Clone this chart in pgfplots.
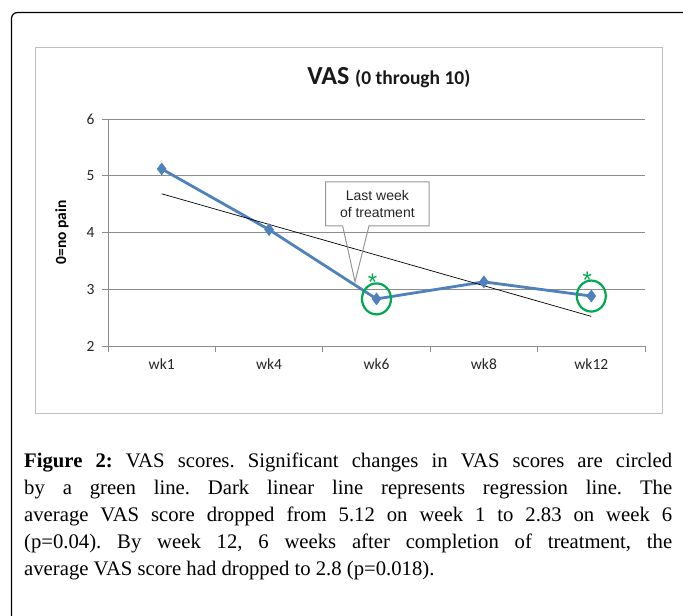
\documentclass[border=0pt]{standalone}
\usepackage{fontspec}
\setmainfont{Carlito}
\newfontfamily\capfont{Liberation Serif}
\newfontfamily\arialfont{Liberation Sans}
\usepackage{pgfplots}
\pgfplotsset{compat=1.18}
\definecolor{xlblue}{RGB}{79,129,189}
\definecolor{xlgreen}{RGB}{0,168,80}
\definecolor{gridgray}{RGB}{140,140,140}
\definecolor{boxgray}{RGB}{191,191,191}
\definecolor{callgray}{RGB}{150,150,150}
\begin{document}
\begin{tikzpicture}
\useasboundingbox (0pt,0pt) rectangle (683pt,-616pt);
\fill[white] (0pt,0pt) rectangle (683pt,-616pt);
\draw[line width=1.2pt, rounded corners=6pt] (684pt,-12.5pt) -- (11.5pt,-12.5pt) -- (11.5pt,-618pt);
\draw[boxgray, line width=1pt] (35pt,-47pt) rectangle (662pt,-413pt);
\begin{axis}[
  at={(108pt,-346pt)}, anchor=south west,
  scale only axis, width=537pt, height=227pt,
  xmin=-0.5, xmax=4.5, ymin=2, ymax=6,
  axis x line*=bottom, axis y line*=left,
  axis line style={gridgray, line width=0.8pt, -},
  ytick={2,3,4,5,6},
  ymajorgrids, grid style={gridgray, line width=0.8pt},
  xtick={0,1,2,3,4}, xticklabels={wk1,wk4,wk6,wk8,wk12},
  minor xtick={-0.5,0.5,1.5,2.5,3.5,4.5},
  tick align=outside, major tick length=6pt, minor tick length=6pt,
  every major x tick/.append style={draw=none},
  every minor x tick/.append style={gridgray, line width=0.8pt},
  every major y tick/.append style={gridgray, line width=0.8pt},
  tick label style={font=\fontsize{15.5}{17}\selectfont, text=black!85},
  yticklabel style={xshift=-4pt},
  xticklabel style={yshift=-3pt},
  /pgf/number format/assume math mode=true,
  ylabel={\textbf{0=no pain}},
  ylabel style={at={(axis description cs:-0.0857,0.5)}, anchor=center, font=\fontsize{15.5}{17}\selectfont},
  clip=false,
]
\addplot[xlblue, line width=2.8pt, mark=diamond*, mark size=6pt, mark options={fill=xlblue, draw=xlblue, line width=0.5pt}] coordinates {(0,5.12) (1,4.05) (2,2.83) (3,3.13) (4,2.88)};
\addplot[black, line width=0.7pt] coordinates {(0,4.682) (4,2.522)};
\draw[xlgreen, line width=2.2pt] (axis cs:2,2.83) ellipse [x radius=14.5pt, y radius=15.5pt];
\draw[xlgreen, line width=2.2pt] (axis cs:4,2.88) ellipse [x radius=14.5pt, y radius=15.5pt];
\node[anchor=base, inner sep=0pt, text=xlgreen, font=\arialfont\fontsize{24}{24}\selectfont, xshift=-4pt, yshift=8pt] at (axis cs:2,2.83) {*};
\node[anchor=base, inner sep=0pt, text=xlgreen, font=\arialfont\fontsize{24}{24}\selectfont, xshift=-4pt, yshift=8pt] at (axis cs:4,2.88) {*};
\draw[callgray, line width=1pt] (axis cs:1.527,4.89) -- (axis cs:2.489,4.89) -- (axis cs:2.489,4.115) -- (axis cs:1.930,4.115) -- (axis cs:1.80,3.133) -- (axis cs:1.685,4.115) -- (axis cs:1.527,4.115) -- cycle;
\node[font=\arialfont\fontsize{14}{16.7}\selectfont, align=center, text=black!85] at (axis cs:2.008,4.50) {Last week\\of treatment};
\node[font=\bfseries, text=black!90] at (axis description cs:0.523,1) [yshift=41pt] {\fontsize{26}{30}\selectfont VAS \fontsize{19.5}{22}\selectfont (0 through 10)};
\end{axis}
\node[anchor=base west, inner sep=0pt] at (24pt,-467pt) {\parbox[t]{648pt}{\capfont\fontsize{20.7}{27}\selectfont\frenchspacing\hyphenpenalty=10000\emergencystretch=3em
\textbf{Figure 2:} VAS scores. Significant changes in VAS scores are circled\linebreak by a green line. Dark linear line represents regression line. The\linebreak average VAS score dropped from 5.12 on week 1 to 2.83 on week 6\linebreak (p=0.04). By week 12, 6 weeks after completion of treatment, the\linebreak average VAS score had dropped to 2.8 (p=0.018).}};
\end{tikzpicture}
\end{document}
